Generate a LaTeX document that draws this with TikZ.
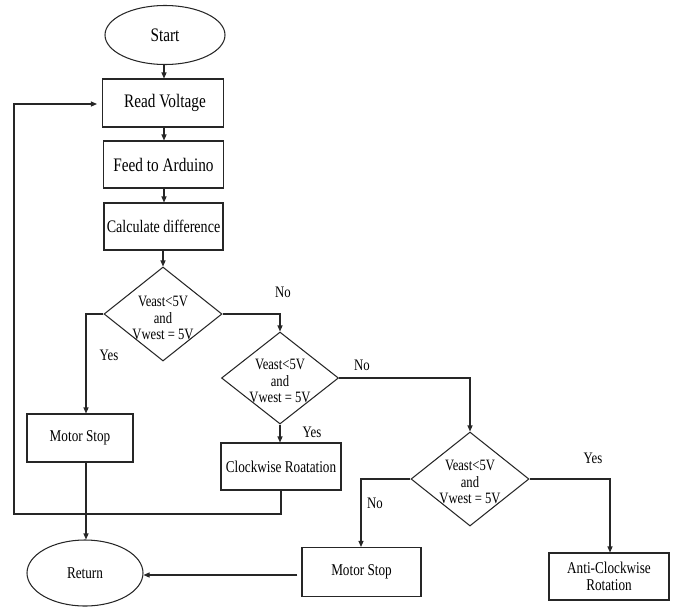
\documentclass[tikz,border=0pt]{standalone}
\usepackage{fontspec}
\setmainfont{Liberation Serif}[FakeStretch=0.8]
\usetikzlibrary{shapes.geometric,arrows.meta}
\begin{document}
\begin{tikzpicture}[x=1pt,y=-1pt,
  line width=1.05pt, draw=black!85,
  arr/.style={-{Triangle[length=6pt,width=5pt]}},
  bigbox/.style={draw, rectangle, inner sep=0pt, font=\fontsize{19.1}{21}\selectfont},
  smallbox/.style={draw, rectangle, inner sep=0pt, align=center, font=\fontsize{16.5}{16.7}\selectfont},
  oval/.style={draw, ellipse, inner sep=0pt},
  dia/.style={draw, diamond, inner sep=0pt},
  dtext/.style={align=center, inner sep=0pt, font=\fontsize{15.8}{16.5}\selectfont},
  lab/.style={inner sep=0pt, font=\fontsize{16}{17}\selectfont}
]
\useasboundingbox (0,0) rectangle (674,608);

% nodes
\node[oval, minimum width=120pt, minimum height=59pt, font=\fontsize{19.1}{21}\selectfont] (start) at (165,35) {Start};
\node[bigbox, minimum width=121pt, minimum height=48pt] (read) at (163,103) {\hspace*{4pt}Read Voltage};
\node[bigbox, minimum width=120pt, minimum height=47pt] (feed) at (163.5,164.5) {Feed to Arduino};
\node[bigbox, minimum width=119pt, minimum height=47pt, font=\fontsize{17.6}{19}\selectfont] (calc) at (163.5,226.5) {Calculate difference};

\node[dia, minimum width=118pt, minimum height=94pt] (d1) at (163,314) {};
\node[dtext] (t1) at (163,318) {Veast<5V\\and\\Vwest = 5V};

\node[dia, minimum width=117pt, minimum height=92pt] (d2) at (280,378) {};
\node[dtext] (t2) at (280,381) {Veast<5V\\and\\Vwest = 5V};

\node[dia, minimum width=118pt, minimum height=94pt] (d3) at (470,479) {};
\node[dtext] (t3) at (470,482) {Veast<5V\\and\\Vwest = 5V};

\node[smallbox, minimum width=106pt, minimum height=48pt] (ms1) at (80,438) {Motor Stop};
\node[smallbox, minimum width=120pt, minimum height=47pt] (cw) at (281,466.5) {Clockwise Roatation};
\node[smallbox, minimum width=119pt, minimum height=49pt] (ms2) at (361.5,572) {Motor Stop};
\node[smallbox, minimum width=120pt, minimum height=47pt] (anti) at (609,576.5) {Anti-Clockwise\\Rotation};
\node[oval, minimum width=116pt, minimum height=66pt, font=\fontsize{16.5}{18}\selectfont] (ret) at (85,573) {Return};

% labels
\node[lab] (l1) at (283,292) {No};
\node[lab] (l2) at (109,355) {Yes};
\node[lab] (l3) at (362,365) {No};
\node[lab] (l4) at (312,432) {Yes};
\node[lab] (l5) at (593,458) {Yes};
\node[lab] (l6) at (375,503) {No};

% connectors
\draw[arr] (start.south -| 164,0) -- (read.north -| 164,0);
\draw[arr] (read.south -| 164,0) -- (feed.north -| 164,0);
\draw[arr] (feed.south -| 164,0) -- (calc.north -| 164,0);
\draw[arr] (calc.south -| 163,0) -- (d1.north);
\draw[arr] (d1.west) -| ([xshift=6pt]ms1.north);
\draw[arr] (d1.east) -| (d2.north);
\draw[arr] (d2.south) -- (cw.north -| d2.south);
\draw[arr] (d2.east) -| (d3.north);
\draw[arr] (d3.west) -| (ms2.north -| 361,0);
\draw[arr] (d3.east) -| (anti.north -| 610,0);
\coordinate (fbr) at (281,514);
\coordinate (fbl) at (14,514);
\coordinate (fbt) at (14,104);
\draw[arr] (cw.south) -- (fbr) -- (fbl) -- (fbt) -- ([xshift=-5pt]read.west |- fbt);
\draw[arr] ([xshift=6pt]ms1.south) -- (ret.north -| 86,0);
\draw[arr] ([xshift=-4pt]ms2.west |- 0,575) -- (ret.east |- 0,575);
\end{tikzpicture}
\end{document}
